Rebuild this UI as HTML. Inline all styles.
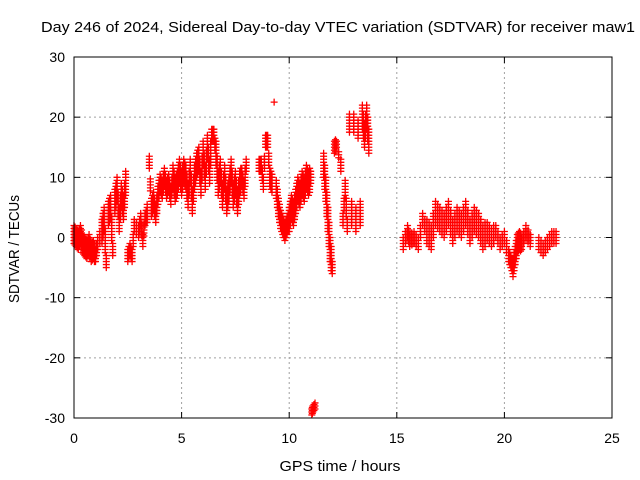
<!DOCTYPE html>
<html><head><meta charset="utf-8"><style>
body{margin:0;background:#fff;}
svg{display:block;font-family:"Liberation Sans",sans-serif;}
</style></head><body>
<svg id="chart" width="640" height="480" viewBox="0 0 640 480">
<text x="338" y="32" font-size="15" text-anchor="middle" textLength="594" lengthAdjust="spacingAndGlyphs">Day 246 of 2024, Sidereal Day-to-day VTEC variation (SDTVAR) for receiver maw1</text>
<text x="340" y="471" font-size="15" text-anchor="middle" textLength="121" lengthAdjust="spacingAndGlyphs">GPS time / hours</text>
<text x="19" y="249" font-size="15" text-anchor="middle" textLength="108" lengthAdjust="spacingAndGlyphs" transform="rotate(-90 19 249)">SDTVAR / TECUs</text>
<g id="grid"></g>
<g id="axes"></g>
<g id="marks"></g>
<rect x="74" y="57" width="538" height="361" fill="none" stroke="#000" stroke-width="1"/>
</svg>
<script>
const xTicks=[0,5,10,15,20,25];
const yTicks=[-30,-20,-10,0,10,20,30];
const times=[0.0,0.1,0.2,0.3,0.4,0.5,0.6,0.7,0.8,0.9,1.0,1.1,1.3,1.4,1.5,1.6,1.7,1.8,1.9,2.0,2.1,2.2,2.3,2.4,2.5,2.6,2.7,2.8,3.0,3.1,3.2,3.3,3.4,3.5,3.6,3.7,3.8,3.9,4.0,4.1,4.2,4.3,4.4,4.5,4.6,4.7,4.8,4.9,5.0,5.1,5.2,5.3,5.4,5.5,5.6,5.7,5.8,5.9,6.0,6.1,6.2,6.3,6.4,6.5,6.6,6.7,6.8,6.9,7.0,7.1,7.2,7.3,7.4,7.5,7.6,7.7,7.8,7.9,8.0,8.6,8.7,8.8,8.9,9.0,9.1,9.2,9.3,9.4,9.5,9.6,9.7,9.8,9.9,10.0,10.1,10.2,10.3,10.4,10.5,10.6,10.7,10.8,10.9,11.0,11.05,11.1,11.2,11.6,11.7,11.8,11.9,12.0,12.1,12.2,12.4,12.5,12.6,12.7,12.8,12.9,13.0,13.1,13.2,13.3,13.4,13.5,13.6,13.7,15.3,15.5,15.6,15.8,16.0,16.2,16.4,16.6,16.8,17.0,17.2,17.4,17.6,17.8,18.0,18.2,18.4,18.6,18.8,19.0,19.2,19.4,19.6,19.8,20.0,20.2,20.3,20.4,20.5,20.6,20.7,20.8,21.0,21.2,21.6,21.8,22.0,22.2,22.4];
const values=[0.5,0,-0.5,0.5,-1,-1.5,-2,-1,-2.5,-2,-3,-1,1,3,-4,4,5,-2,6,8,3,7,5,9,-3,-2,-3,2,1,3,-0.5,3,4,12.5,5,6,4,7,9,8,10,8,9,7,10,8,9,11,9,11,10,7,11,6,10,12,13,9,14,10,15,11,17,17,14,9,11,7,10,6,8,11,7,9,6,9,10,8,12,12,12,9,16,16,10,9,22.5,8,5,3,2,1,2,3,5,4,6,8,7,9,8,10,9,10,-29,-28.5,-28,12,8,3,-2,-5,15,15.5,12,3,8,2,19,4,19,3,18,4,20,17,20,16,-1,1,-0.5,0,-1,3,1,0,4,3,2,4,1,3,2,4,1,3,2,0,1,0,1,-1,0,-3,-4,-5,-3,-1,-0.5,-1,1,-0.5,-1,-2,-1,0,0];
const spreads=[1.5,1.5,1.5,1.5,1.5,1.5,1.5,1.5,1.5,1.5,1,1,2,2,1,2,2,1,2,2,2,2,2,2,1,1,1,1,1,1,1,1,1.5,1,1.5,1.5,1.5,1.5,1.5,1.5,1.5,1.5,1.5,1.5,2,2,2,2,2,2,2,2,2,2,2,2,2,2,2,2,2,2,1,1,2,2,2,2,2,2,2,2,2,2,2,2,1.5,1.5,1,1,1,1,1,1,1.5,1.5,0,1.5,1.5,1.5,1.5,1.5,1.5,2,2,2,2,2,2,2,2,2,2,1,0.5,0.5,0.5,2,2,2,2,1,1,0.5,1,1,1.5,1,1.5,2,1.5,2,1.5,2,2,2,2,2,1,1,1,1,1,1,2,2,2,2,2,2,2,2,2,2,2,2,2,2,1.5,1.5,1,1,1,1,1,1.5,1.5,1.5,1.5,1,1,1,1,1,1,1,1,1];
const NS='http://www.w3.org/2000/svg';
const X0=74,X1=612,Y0=418,Y1=57;
function xs(t){return X0+(t-0)/25*(X1-X0);}
function ys(v){return Y0-(v+30)/60*(Y0-Y1);}
const grid=document.getElementById('grid'),axes=document.getElementById('axes'),marks=document.getElementById('marks');
function mk(tag,attrs,parent){const e=document.createElementNS(NS,tag);for(const k in attrs)e.setAttribute(k,attrs[k]);parent.appendChild(e);return e;}
xTicks.forEach(t=>{
  const x=xs(t);
  if(t>0&&t<25){const g=mk('line',{x1:x,x2:x,y1:Y1,y2:Y0,stroke:'#a0a0a0','stroke-dasharray':'2,3'},grid);
  
  }
  mk('line',{x1:x,x2:x,y1:Y0,y2:Y0-6,stroke:'#000'},axes);
  mk('line',{x1:x,x2:x,y1:Y1,y2:Y1+6,stroke:'#000'},axes);
  const l=mk('text',{x:x,y:Y0+25,'font-size':14,'text-anchor':'middle'},axes);
  l.textContent=t;
  
  
});
yTicks.forEach(v=>{
  const y=ys(v);
  if(v>-30&&v<30){const g=mk('line',{x1:X0,x2:X1,y1:y,y2:y,stroke:'#a0a0a0','stroke-dasharray':'2,3'},grid);
  
  }
  mk('line',{x1:X0,x2:X0+6,y1:y,y2:y,stroke:'#000'},axes);
  mk('line',{x1:X1,x2:X1-6,y1:y,y2:y,stroke:'#000'},axes);
  const l=mk('text',{x:X0-9,y:y+5,'font-size':14,'text-anchor':'end'},axes);
  l.textContent=v;
  
  
});
function plus(x,y){
  const p=mk('path',{d:`M${x-3.5},${y}h7M${x},${y-3.5}v7`,stroke:'#f00','stroke-width':1.3,fill:'none'},marks);
  
  
}
times.forEach((t,i)=>{
  const v=values[i],s=spreads[i];
  const nxt=i+1<times.length&&times[i+1]-t<=0.25&&Math.abs(values[i+1]-v)<8?i+1:-1;
  for(let d=-s;d<=s+0.001;d+=0.5){
    plus(xs(t),ys(v+d));
    if(nxt>0){plus((xs(t)+xs(times[nxt]))/2,(ys(v+d)+ys(values[nxt]+d))/2);}
  }
});
</script>
</body></html>
